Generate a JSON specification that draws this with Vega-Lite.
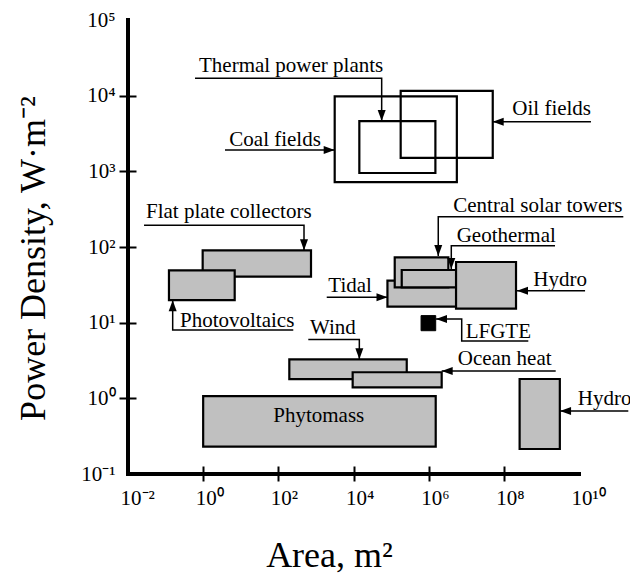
{
  "$schema": "https://vega.github.io/schema/vega-lite/v6.json",
  "width": 451,
  "height": 454,
  "autosize": {"type": "none"},
  "padding": {"left": 128, "top": 20, "right": 51, "bottom": 101},
  "background": "white",
  "config": {"view": {"stroke": null}},
  "datasets": {
    "frame": [
      {"x": 0.01, "x2": 0.01, "y": 0.1, "y2": 100000},
      {"x": 0.01, "x2": 10000000000, "y": 0.1, "y2": 0.1}
    ],
    "boxes": [
      {"name": "Coal fields", "kind": "fossil", "x": 3160, "x2": 5.62e6, "y": 720, "y2": 9800},
      {"name": "Thermal power plants", "kind": "fossil", "x": 14300, "x2": 1.51e6, "y": 950, "y2": 4620},
      {"name": "Oil fields", "kind": "fossil", "x": 180000, "x2": 5.07e7, "y": 1510, "y2": 11600},
      {"name": "Flat plate collectors", "kind": "grey", "x": 0.97, "x2": 740, "y": 40.6, "y2": 90.4},
      {"name": "Photovoltaics", "kind": "grey", "x": 0.123, "x2": 6.9, "y": 19.8, "y2": 49.2},
      {"name": "Tidal", "kind": "grey", "x": 80000, "x2": 5.4e6, "y": 16.3, "y2": 35.9},
      {"name": "Central solar towers", "kind": "grey", "x": 125000, "x2": 3.34e6, "y": 29.2, "y2": 73.1},
      {"name": "Geothermal", "kind": "grey", "x": 192000, "x2": 5.4e6, "y": 29.2, "y2": 49.7},
      {"name": "Hydro (top)", "kind": "grey", "x": 5.35e6, "x2": 2.11e8, "y": 15.3, "y2": 63.4},
      {"name": "Wind", "kind": "grey", "x": 196, "x2": 261000, "y": 1.79, "y2": 3.28},
      {"name": "Ocean heat", "kind": "grey", "x": 9500, "x2": 2.22e6, "y": 1.4, "y2": 2.21},
      {"name": "Phytomass", "kind": "grey", "x": 1.0, "x2": 1.54e6, "y": 0.23, "y2": 1.07},
      {"name": "Hydro (bottom)", "kind": "grey", "x": 2.63e8, "x2": 3.09e9, "y": 0.214, "y2": 1.8},
      {"name": "LFGTE", "kind": "black", "x": 627000, "x2": 1.54e6, "y": 7.83, "y2": 12.4}
    ],
    "labels": [
      {"label": "Thermal power plants", "x": 0.774, "y": 20600},
      {"label": "Coal fields", "x": 4.96, "y": 2180},
      {"label": "Oil fields", "x": 1.68e8, "y": 5550},
      {"label": "Flat plate collectors", "x": 0.0301, "y": 239},
      {"label": "Photovoltaics", "x": 0.242, "y": 8.85},
      {"label": "Wind", "x": 697, "y": 7.08},
      {"label": "Ocean heat", "x": 5.93e6, "y": 2.76},
      {"label": "Phytomass", "x": 1190, "y": 0.482},
      {"label": "Hydro", "x": 9.25e9, "y": 0.816},
      {"label": "LFGTE", "x": 9.66e6, "y": 6.21},
      {"label": "Central solar towers", "x": 4.52e6, "y": 293},
      {"label": "Geothermal", "x": 5.57e6, "y": 118},
      {"label": "Tidal", "x": 2140, "y": 25.6},
      {"label": "Hydro", "x": 6.08e8, "y": 30.5}
    ],
    "leaders": [
      {"id": "thermal", "order": 1, "x": 0.607, "y": 17000},
      {"id": "thermal", "order": 2, "x": 56200, "y": 17000},
      {"id": "thermal", "order": 3, "x": 56200, "y": 4620},
      {"id": "coal", "order": 1, "x": 3.81, "y": 1910},
      {"id": "coal", "order": 2, "x": 3160, "y": 1910},
      {"id": "oil", "order": 1, "x": 2.08e10, "y": 4530},
      {"id": "oil", "order": 2, "x": 5.06e7, "y": 4530},
      {"id": "fpc", "order": 1, "x": 0.0267, "y": 194},
      {"id": "fpc", "order": 2, "x": 482, "y": 194},
      {"id": "fpc", "order": 3, "x": 482, "y": 90.4},
      {"id": "pv", "order": 1, "x": 250, "y": 8.0},
      {"id": "pv", "order": 2, "x": 0.1545, "y": 8.0},
      {"id": "pv", "order": 3, "x": 0.1545, "y": 19.8},
      {"id": "wind", "order": 1, "x": 627, "y": 6.0},
      {"id": "wind", "order": 2, "x": 14300, "y": 6.0},
      {"id": "wind", "order": 3, "x": 14300, "y": 3.28},
      {"id": "ocean", "order": 1, "x": 2.4e9, "y": 2.3},
      {"id": "ocean", "order": 2, "x": 2.22e6, "y": 2.3},
      {"id": "hydro2", "order": 1, "x": 2.05e11, "y": 0.681},
      {"id": "hydro2", "order": 2, "x": 3.13e9, "y": 0.681},
      {"id": "lfgte", "order": 1, "x": 4.48e8, "y": 5.72},
      {"id": "lfgte", "order": 2, "x": 7.57e6, "y": 5.72},
      {"id": "lfgte", "order": 3, "x": 7.57e6, "y": 11.2},
      {"id": "lfgte", "order": 4, "x": 1.57e6, "y": 11.2},
      {"id": "cst", "order": 1, "x": 1.51e11, "y": 251},
      {"id": "cst", "order": 2, "x": 1.8e6, "y": 251},
      {"id": "cst", "order": 3, "x": 1.8e6, "y": 76.0},
      {"id": "geo", "order": 1, "x": 2.3e9, "y": 104},
      {"id": "geo", "order": 2, "x": 4.0e6, "y": 104},
      {"id": "geo", "order": 3, "x": 4.0e6, "y": 51.2},
      {"id": "tidal", "order": 1, "x": 1940, "y": 21.6},
      {"id": "tidal", "order": 2, "x": 80400, "y": 21.6},
      {"id": "hydro1", "order": 1, "x": 1.45e10, "y": 26.4},
      {"id": "hydro1", "order": 2, "x": 2.24e8, "y": 26.4}
    ],
    "heads": [
      {"id": "thermal", "x": 56200, "y": 4620, "dir": "down"},
      {"id": "coal", "x": 3160, "y": 1910, "dir": "right"},
      {"id": "oil", "x": 5.06e7, "y": 4530, "dir": "left"},
      {"id": "fpc", "x": 482, "y": 90.4, "dir": "down"},
      {"id": "pv", "x": 0.1545, "y": 19.8, "dir": "up"},
      {"id": "wind", "x": 14300, "y": 3.28, "dir": "down"},
      {"id": "ocean", "x": 2.22e6, "y": 2.3, "dir": "left"},
      {"id": "hydro2", "x": 3.13e9, "y": 0.681, "dir": "left"},
      {"id": "lfgte", "x": 1.57e6, "y": 11.2, "dir": "left"},
      {"id": "cst", "x": 1.8e6, "y": 76.0, "dir": "down"},
      {"id": "geo", "x": 4.0e6, "y": 51.2, "dir": "down"},
      {"id": "tidal", "x": 80400, "y": 21.6, "dir": "right"},
      {"id": "hydro1", "x": 2.24e8, "y": 26.4, "dir": "left"}
    ]
  },
  "encoding": {
    "x": {
      "field": "x", "type": "quantitative",
      "scale": {"type": "log", "domain": [0.01, 10000000000], "nice": false},
      "axis": {
        "title": "Area, m²",
        "values": [0.01, 1, 100, 10000, 1000000, 100000000, 10000000000],
        "labelExpr": "'10' + ['⁻²','⁻¹','⁰','¹','²','³','⁴','⁵','⁶','⁷','⁸','⁹','¹⁰'][round(log(datum.value)/LN10)+2]",
        "offset": -8, "domain": false, "grid": false,
        "tickSize": 15, "tickWidth": 2, "tickColor": "black",
        "tickOpacity": {"condition": {"test": "datum.value < 0.1 || datum.value > 1e9", "value": 0}, "value": 1},
        "labelFont": "Liberation Serif", "labelFontSize": 21, "labelColor": "black",
        "labelAlign": "left", "labelOffset": -8, "labelPadding": 6,
        "labelFlush": false, "labelOverlap": false, "labelBound": false,
        "titleFont": "Liberation Serif", "titleFontSize": 36, "titleFontWeight": "normal", "titleColor": "black",
        "titleX": 201, "titleY": 100, "titleAlign": "center", "titleBaseline": "alphabetic"
      }
    },
    "y": {
      "field": "y", "type": "quantitative",
      "scale": {"type": "log", "domain": [0.1, 100000], "nice": false},
      "axis": {
        "title": "Power Density, W·m⁻²",
        "values": [0.1, 1, 10, 100, 1000, 10000, 100000],
        "labelExpr": "'10' + ['⁻²','⁻¹','⁰','¹','²','³','⁴','⁵','⁶','⁷','⁸','⁹','¹⁰'][round(log(datum.value)/LN10)+2]",
        "offset": -8, "domain": false, "grid": false,
        "tickSize": 17, "tickWidth": 2, "tickColor": "black",
        "tickOpacity": {"condition": {"test": "datum.value < 0.5 || datum.value > 50000", "value": 0}, "value": 1},
        "labelFont": "Liberation Serif", "labelFontSize": 21, "labelColor": "black",
        "labelPadding": 4, "labelFlush": false, "labelOverlap": false, "labelBound": false,
        "titleFont": "Liberation Serif", "titleFontSize": 36, "titleFontWeight": "normal", "titleColor": "black",
        "titleX": -92, "titleY": 238, "titleAngle": -90, "titleAlign": "center", "titleBaseline": "alphabetic"
      }
    }
  },
  "layer": [
    {
      "data": {"name": "boxes"},
      "transform": [{"filter": "datum.kind == 'fossil'"}],
      "mark": {"type": "rect", "fill": null, "fillOpacity": 0, "stroke": "black", "strokeWidth": 2.2, "strokeJoin": "miter"},
      "encoding": {"x2": {"field": "x2"}, "y2": {"field": "y2"}}
    },
    {
      "data": {"name": "boxes"},
      "transform": [{"filter": "datum.kind == 'grey'"}],
      "mark": {"type": "rect", "fill": "#c0c0c0", "stroke": "black", "strokeWidth": 2.2, "strokeJoin": "miter"},
      "encoding": {"x2": {"field": "x2"}, "y2": {"field": "y2"}}
    },
    {
      "data": {"name": "boxes"},
      "transform": [{"filter": "datum.kind == 'black'"}],
      "mark": {"type": "rect", "fill": "black", "stroke": "black", "strokeWidth": 1},
      "encoding": {"x2": {"field": "x2"}, "y2": {"field": "y2"}}
    },
    {
      "data": {"name": "leaders"},
      "mark": {"type": "line", "color": "black", "strokeWidth": 1.5, "strokeJoin": "miter"},
      "encoding": {"detail": {"field": "id"}, "order": {"field": "order"}}
    },
    {
      "data": {"name": "heads"},
      "mark": {"type": "point", "filled": true, "color": "black", "opacity": 1, "size": 4},
      "encoding": {
        "shape": {
          "field": "dir", "type": "nominal", "legend": null,
          "scale": {
            "domain": ["down", "up", "left", "right"],
            "range": ["M-4,-11L4,-11L0,0Z", "M-4,11L4,11L0,0Z", "M11,-4L11,4L0,0Z", "M-11,-4L-11,4L0,0Z"]
          }
        }
      }
    },
    {
      "data": {"name": "labels"},
      "transform": [{"filter": "datum.label != 'Phytomass'"}],
      "mark": {"type": "text", "align": "left", "baseline": "alphabetic", "font": "Liberation Serif", "fontSize": 21, "color": "black"},
      "encoding": {"text": {"field": "label"}}
    },
    {
      "data": {"name": "labels"},
      "transform": [{"filter": "datum.label == 'Phytomass'"}],
      "mark": {"type": "text", "align": "center", "baseline": "alphabetic", "font": "Liberation Serif", "fontSize": 21, "color": "black"},
      "encoding": {"text": {"field": "label"}}
    },
    {
      "data": {"name": "frame"},
      "mark": {"type": "rule", "color": "black", "strokeWidth": 4, "strokeCap": "square"},
      "encoding": {"x2": {"field": "x2"}, "y2": {"field": "y2"}}
    }
  ]
}
